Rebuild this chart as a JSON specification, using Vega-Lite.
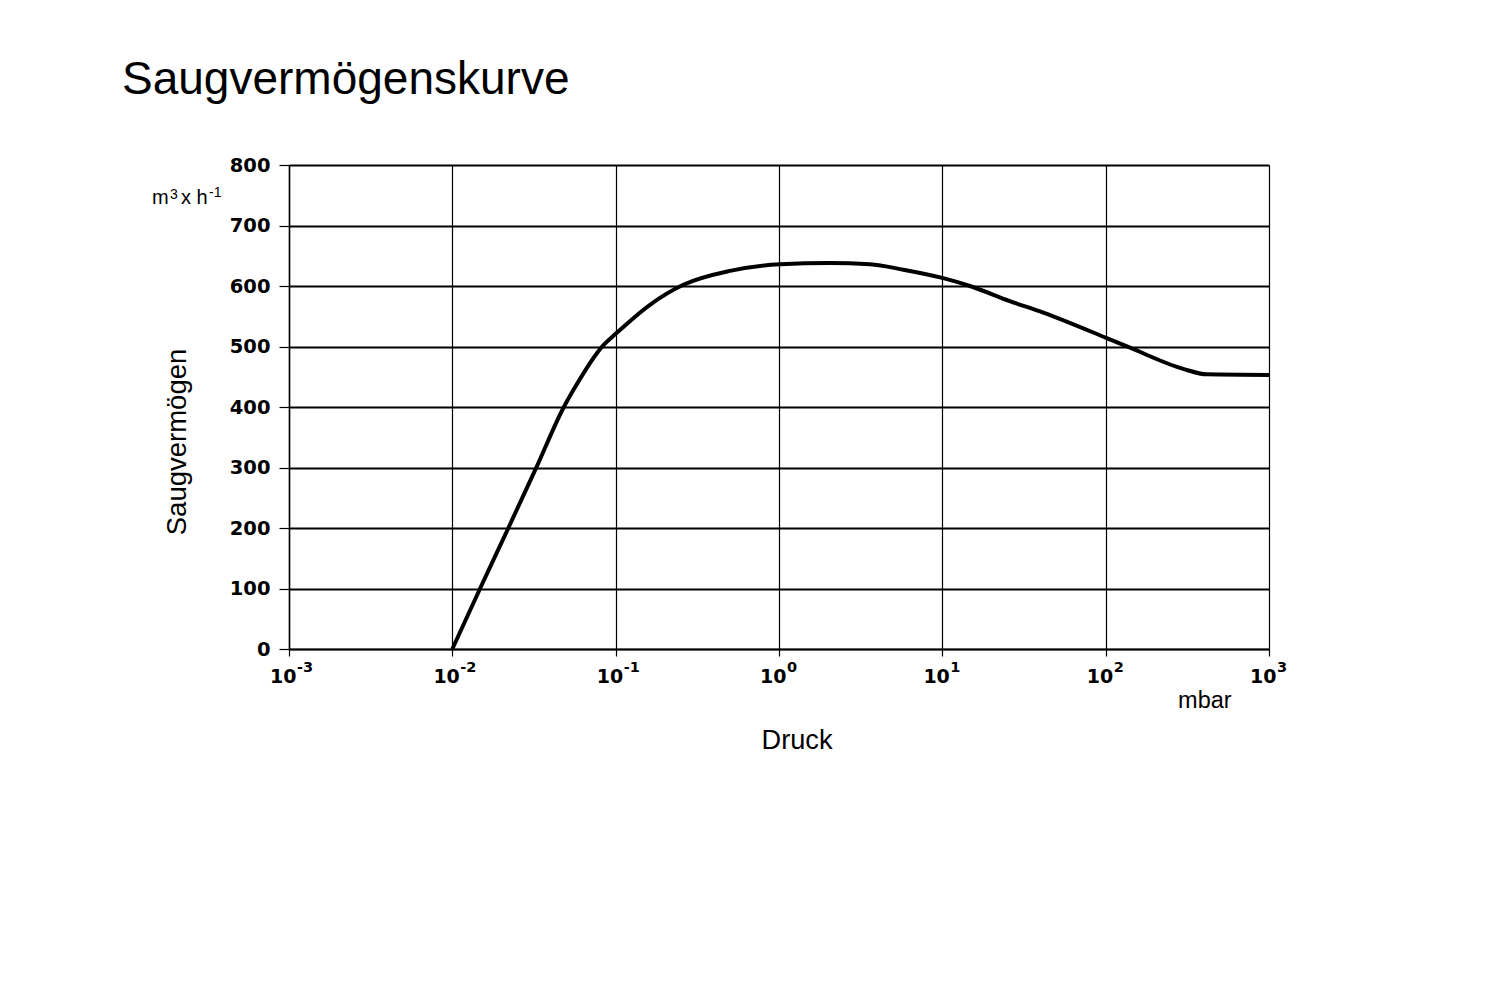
{
  "$schema": "https://vega.github.io/schema/vega-lite/v6.json",
  "width": 980,
  "height": 484,
  "autosize": {"type": "none"},
  "padding": {"left": 289, "top": 165, "right": 235, "bottom": 357},
  "background": "white",
  "title": {
    "text": "Saugvermögenskurve",
    "anchor": "start",
    "frame": "group",
    "font": "Liberation Sans",
    "fontSize": 46,
    "fontWeight": "normal",
    "color": "#000",
    "baseline": "alphabetic",
    "dx": -167,
    "offset": 15
  },
  "config": {
    "view": {"stroke": null},
    "font": "Liberation Sans"
  },
  "layer": [
    {
      "data": {
        "values": [
          {"p": 0.01, "s": 0},
          {"p": 0.01479, "s": 100},
          {"p": 0.02203, "s": 200},
          {"p": 0.03281, "s": 301},
          {"p": 0.04775, "s": 398},
          {"p": 0.05508, "s": 428},
          {"p": 0.08395, "s": 502},
          {"p": 0.1, "s": 521},
          {"p": 0.1622, "s": 569},
          {"p": 0.2594, "s": 602},
          {"p": 0.5012, "s": 625},
          {"p": 1.014, "s": 636},
          {"p": 2.05, "s": 638},
          {"p": 3.6, "s": 636},
          {"p": 5.77, "s": 627},
          {"p": 10.14, "s": 613},
          {"p": 14.76, "s": 600},
          {"p": 25.9, "s": 575},
          {"p": 41.5, "s": 556},
          {"p": 101.4, "s": 514},
          {"p": 141, "s": 498},
          {"p": 298.5, "s": 463},
          {"p": 416, "s": 454},
          {"p": 1000, "s": 453}
        ]
      },
      "mark": {"type": "line", "color": "#000", "strokeWidth": 4, "interpolate": "monotone"},
      "encoding": {
        "x": {
          "field": "p",
          "type": "quantitative",
          "scale": {"type": "log", "domain": [0.001, 1000], "nice": false},
          "axis": {
            "title": "Druck",
            "titleFont": "Liberation Sans",
            "titleFontSize": 27.2,
            "titleFontWeight": "normal",
            "titleColor": "#000",
            "titleX": 507.5,
            "titleY": 99,
            "titleBaseline": "alphabetic",
            "titleAnchor": null,
            "values": [0.001, 0.01, 0.1, 1, 10, 100, 1000],
            "labelExpr": "'10'",
            "labelFont": "DejaVu Sans",
            "labelFontSize": 19,
            "labelFontWeight": "bold",
            "labelColor": "#000",
            "labelAlign": "right",
            "labelOffset": 7,
            "labelBaseline": "alphabetic",
            "labelPadding": 26,
            "labelFlush": false,
            "labelOverlap": false,
            "grid": true,
            "gridColor": "#000",
            "gridWidth": 1.2,
            "gridOpacity": 1,
            "domainColor": "#000",
            "domainWidth": 1.5,
            "tickColor": "#000",
            "tickSize": 7,
            "tickWidth": 1.2
          }
        },
        "y": {
          "field": "s",
          "type": "quantitative",
          "scale": {"domain": [0, 800], "nice": false},
          "axis": {
            "title": "Saugvermögen",
            "titleFont": "Liberation Sans",
            "titleFontSize": 27.5,
            "titleFontWeight": "normal",
            "titleColor": "#000",
            "titleX": -104,
            "titleY": 276.5,
            "titleBaseline": "alphabetic",
            "titleAnchor": null,
            "values": [0, 100, 200, 300, 400, 500, 600, 700, 800],
            "labelFont": "DejaVu Sans",
            "labelFontSize": 19.5,
            "labelFontWeight": "bold",
            "labelColor": "#000",
            "labelPadding": 9,
            "labelFlush": false,
            "grid": true,
            "gridColor": "#000",
            "gridWidth": 2,
            "gridOpacity": 1,
            "domainColor": "#000",
            "domainWidth": 1.5,
            "tickColor": "#000",
            "tickSize": 10,
            "tickWidth": 1.2
          }
        }
      }
    },
    {
      "data": {
        "values": [
          {"p": 0.001, "e": "-3"},
          {"p": 0.01, "e": "-2"},
          {"p": 0.1, "e": "-1"},
          {"p": 1, "e": "0"},
          {"p": 10, "e": "1"},
          {"p": 100, "e": "2"},
          {"p": 1000, "e": "3"}
        ]
      },
      "mark": {"type": "text", "align": "left", "baseline": "alphabetic", "fontSize": 14.5, "fontWeight": "bold", "font": "DejaVu Sans", "color": "#000", "dx": 8, "dy": 23},
      "encoding": {
        "x": {"field": "p", "type": "quantitative"},
        "y": {"datum": 0, "type": "quantitative"},
        "text": {"field": "e"}
      }
    },
    {
      "data": {"values": [{"t": "m"}]},
      "mark": {"type": "text", "align": "left", "baseline": "alphabetic", "fontSize": 20, "font": "Liberation Sans", "color": "#000", "dx": -137, "dy": 8.75},
      "encoding": {
        "x": {"datum": 0.001, "type": "quantitative"},
        "y": {"datum": 750, "type": "quantitative"},
        "text": {"field": "t"}
      }
    },
    {
      "data": {"values": [{"t": "3"}]},
      "mark": {"type": "text", "align": "left", "baseline": "alphabetic", "fontSize": 14, "font": "Liberation Sans", "color": "#000", "dx": -119, "dy": 3.75},
      "encoding": {
        "x": {"datum": 0.001, "type": "quantitative"},
        "y": {"datum": 750, "type": "quantitative"},
        "text": {"field": "t"}
      }
    },
    {
      "data": {"values": [{"t": "x h"}]},
      "mark": {"type": "text", "align": "left", "baseline": "alphabetic", "fontSize": 20, "font": "Liberation Sans", "color": "#000", "dx": -108, "dy": 8.75},
      "encoding": {
        "x": {"datum": 0.001, "type": "quantitative"},
        "y": {"datum": 750, "type": "quantitative"},
        "text": {"field": "t"}
      }
    },
    {
      "data": {"values": [{"t": "-1"}]},
      "mark": {"type": "text", "align": "left", "baseline": "alphabetic", "fontSize": 14, "font": "Liberation Sans", "color": "#000", "dx": -80, "dy": 1.75},
      "encoding": {
        "x": {"datum": 0.001, "type": "quantitative"},
        "y": {"datum": 750, "type": "quantitative"},
        "text": {"field": "t"}
      }
    },
    {
      "data": {"values": [{"t": "mbar"}]},
      "mark": {"type": "text", "align": "center", "baseline": "alphabetic", "fontSize": 23.5, "font": "Liberation Sans", "color": "#000", "dy": 59},
      "encoding": {
        "x": {"datum": 405, "type": "quantitative"},
        "y": {"datum": 0, "type": "quantitative"},
        "text": {"field": "t"}
      }
    }
  ]
}
